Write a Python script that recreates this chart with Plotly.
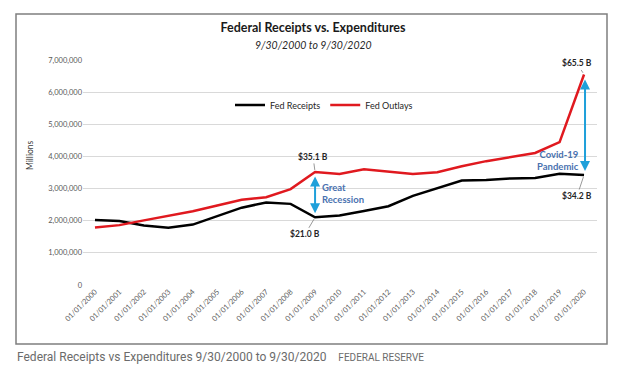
import plotly.graph_objects as go

years = list(range(2000, 2021))
tick_labels = [f"01/01/{y}" for y in years]
fed_receipts = [2025000, 1991000, 1853000, 1782000, 1880000, 2153000, 2406000, 2568000, 2524000,
                2105000, 2163000, 2303000, 2450000, 2775000, 3021000, 3250000, 3268000, 3316000,
                3330000, 3463000, 3421000]
fed_outlays = [1789000, 1863000, 2011000, 2160000, 2293000, 2472000, 2655000, 2729000, 2983000,
               3518000, 3457000, 3603000, 3537000, 3455000, 3506000, 3692000, 3853000, 3982000,
               4109000, 4447000, 6550000]

FONT = "Lato"
OFF = 8  # page body margin offset
W, H = 624 - OFF, 371 - OFF
# plot area in reference page pixels
PL, PR, PT, PB = 83, 597, 60, 285
ML, MR, MT, MB = PL - OFF, W - (PR - OFF), PT - OFF, H - (PB - OFF)
PW = PR - PL
PH = PB - PT

def px(xp):
    return (xp - PL) / PW

def py(yp):
    return (PB - yp) / PH

fig = go.Figure()
fig.add_trace(go.Scatter(x=years, y=fed_receipts, mode="lines", name="Fed Receipts",
                         line=dict(color="#000000", width=2.5)))
fig.add_trace(go.Scatter(x=years, y=fed_outlays, mode="lines", name="Fed Outlays",
                         line=dict(color="#E0191F", width=2.5)))

fig.update_layout(
    width=W, height=H,
    margin=dict(l=ML, r=MR, t=MT, b=MB, autoexpand=False),
    paper_bgcolor="white", plot_bgcolor="white",
    font=dict(family=FONT, color="#404040"),
    title=dict(text="<b>Federal Receipts vs. Expenditures</b>", x=(313 - OFF) / W, xref="container",
               xanchor="center", y=1 - (28 - OFF) / H, yref="container", yanchor="middle",
               font=dict(size=12.5, color="#1a1a1a", family=FONT)),
    showlegend=True,
    legend=dict(orientation="h", x=px(324), xanchor="center", y=py(105), yanchor="middle",
                bgcolor="rgba(0,0,0,0)", font=dict(size=9, color="#262626", family=FONT),
                itemwidth=30, tracegroupgap=0),
    xaxis=dict(range=[1999.51, 2020.53], tickvals=years, ticktext=tick_labels, tickangle=-45,
               tickfont=dict(size=7.5, color="#595959"), showgrid=False, zeroline=False,
               showline=False, ticks=""),
    yaxis=dict(range=[0, 7000000], dtick=1000000, tickformat=",", showgrid=True,
               gridcolor="#d9d9d9", gridwidth=1, zeroline=False, showline=False,
               tickfont=dict(size=7.5, color="#595959"), ticks=""),
)

anns = []
# subtitle
anns.append(dict(text="<i>9/30/2000 to 9/30/2020</i>", xref="paper", yref="paper",
                 x=px(313), y=py(45), xanchor="center", yanchor="middle", showarrow=False,
                 font=dict(size=10.5, color="#262626")))
# y axis title
anns.append(dict(text="Millions", xref="paper", yref="paper", x=px(30), y=py(156),
                 xanchor="center", yanchor="middle", textangle=-90, showarrow=False,
                 font=dict(size=8.5, color="#404040")))
# value labels with leader lines
labels = [("$35.1 B", 2009, fed_outlays[9], -2, -15),
          ("$21.0 B", 2009, fed_receipts[9], -10, 17),
          ("$65.5 B", 2020, fed_outlays[20], -7, -11),
          ("$34.2 B", 2020, fed_receipts[20], -7, 21)]
for t, xv, yv, ax, ay in labels:
    anns.append(dict(text=f"<b>{t}</b>", x=xv, y=yv, xref="x", yref="y", ax=ax, ay=ay,
                     showarrow=True, arrowhead=0, arrowwidth=0.8, arrowcolor="#7f7f7f",
                     font=dict(size=8.5, color="#262626"), standoff=2))
# blue arrows
for xv, y0, y1 in [(2009, 3420000, 2230000), (2020.04, 6440000, 3550000)]:
    anns.append(dict(text="", x=xv, y=y1, ax=xv, ay=y0, xref="x", yref="y", axref="x", ayref="y",
                     showarrow=True, arrowhead=2, startarrowhead=2, arrowside="end+start",
                     arrowwidth=2, arrowsize=1, startarrowsize=1, arrowcolor="#1FA0DA"))
# blue text
anns.append(dict(text="<b>Great<br>Recession</b>", xref="paper", yref="paper", x=px(320), y=py(193),
                 xanchor="left", yanchor="middle", align="left", showarrow=False,
                 font=dict(size=9.5, color="#4A72B0")))
anns.append(dict(text="<b>Covid-19<br>Pandemic</b>", xref="paper", yref="paper", x=px(581), y=py(160),
                 xanchor="right", yanchor="middle", align="right", showarrow=False,
                 font=dict(size=9.5, color="#4A72B0")))
# caption
anns.append(dict(text="Federal Receipts vs Expenditures 9/30/2000 to 9/30/2020&nbsp;&nbsp;&nbsp;&nbsp;"
                      "<span style='font-size:10px'>FEDERAL RESERVE</span>",
                 xref="paper", yref="paper", x=px(15), y=py(357), xanchor="left", yanchor="middle",
                 showarrow=False, font=dict(size=12, color="#6b6b6b", family="Roboto")))
fig.update_layout(annotations=anns)

# outer chart box
fig.add_shape(type="rect", xref="paper", yref="paper", x0=px(16), x1=px(607), y0=py(14), y1=py(344),
              line=dict(color="#7f7f7f", width=1.5), fillcolor="rgba(0,0,0,0)", layer="below")

fig.write_html("out.html")
